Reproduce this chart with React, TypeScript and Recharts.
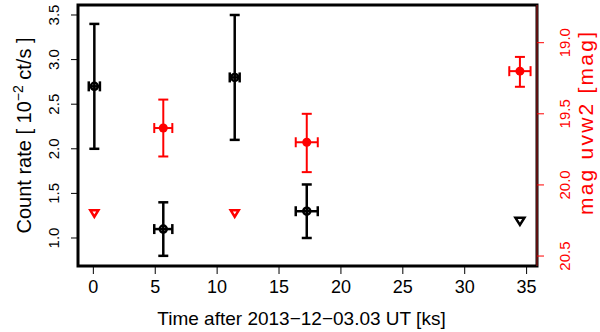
import { ComposedChart, ErrorBar, ReferenceArea, Scatter, XAxis, YAxis } from 'recharts';

const FONT = '"Liberation Sans", Arial, sans-serif';

// X-ray count rate (black), detections
const xrayTime = [0.08, 5.65, 11.42, 17.24];
const xrayTimeErr = [0.45, 0.73, 0.4, 0.89];
const xrayRate = [2.7, 1.1, 2.8, 1.3];
const xrayRateLow = [2.0, 0.8, 2.1, 1.0];
const xrayRateHigh = [3.4, 1.4, 3.5, 1.6];

// X-ray upper limits
const xrayLimTime = [34.46];
const xrayLimRate = [1.19];

// UVOT uvw2 magnitudes (red), detections
const uvTime = [5.65, 17.24, 34.46];
const uvTimeErr = [0.73, 0.89, 0.86];
const uvMag = [19.6, 19.7, 19.2];
const uvMagLow = [19.4, 19.5, 19.1];
const uvMagHigh = [19.8, 19.91, 19.31];

// UVOT upper limits
const uvLimTime = [0.08, 11.42];
const uvLimMag = [20.2, 20.2];

const xTicks = [0, 5, 10, 15, 20, 25, 30, 35];
const rateTicks = [1.0, 1.5, 2.0, 2.5, 3.0, 3.5];
const magTicks = [19.0, 19.5, 20.0, 20.5];

const xDomain: [number, number] = [-1.24, 35.84];
const rateDomain: [number, number] = [0.686, 3.612];
const magDomain: [number, number] = [18.735, 20.57];

const xrayData = xrayTime.map((t, i) => ({
  x: t,
  y: xrayRate[i],
  xe: xrayTimeErr[i],
  ye: [xrayRate[i] - xrayRateLow[i], xrayRateHigh[i] - xrayRate[i]],
}));
const xrayLimData = xrayLimTime.map((t, i) => ({ x: t, y: xrayLimRate[i] }));
const uvData = uvTime.map((t, i) => ({
  x: t,
  y: uvMag[i],
  xe: uvTimeErr[i],
  ye: [uvMag[i] - uvMagLow[i], uvMagHigh[i] - uvMag[i]],
}));
const uvLimData = uvLimTime.map((t, i) => ({ x: t, y: uvLimMag[i] }));

const OpenCircle = (p: any) => (
  <circle cx={p.cx} cy={p.cy} r={3.5} fill="none" stroke="#000" strokeWidth={2.5} />
);
const FilledDot = (p: any) => <circle cx={p.cx} cy={p.cy} r={4.5} fill="#ff0000" />;
const downTri = (color: string, hw: number) => (p: any) => (
  <path
    d={`M${p.cx - hw},${p.cy - hw * 0.75} L${p.cx + hw},${p.cy - hw * 0.75} L${p.cx},${p.cy + hw * 0.85} Z`}
    fill="none"
    stroke={color}
    strokeWidth={2.5}
    strokeLinejoin="miter"
  />
);

const LeftTick = (p: any) => {
  const x = p.x - 12;
  return (
    <text
      x={x}
      y={p.y}
      transform={`rotate(-90, ${x}, ${p.y})`}
      textAnchor="middle"
      fontSize={15}
      fontFamily={FONT}
      fill="#000"
    >
      {Number(p.payload.value).toFixed(1)}
    </text>
  );
};

const RightTick = (p: any) => {
  const x = p.x + 26;
  return (
    <text
      x={x}
      y={p.y}
      transform={`rotate(-90, ${x}, ${p.y})`}
      textAnchor="middle"
      fontSize={15}
      fontFamily={FONT}
      fill="#ff0000"
    >
      {Number(p.payload.value).toFixed(1)}
    </text>
  );
};

const LeftTitle = () => (
  <text
    x={31}
    y={135.5}
    transform="rotate(-90, 31, 135.5)"
    textAnchor="middle"
    fontSize={20}
    fontFamily={FONT}
    fill="#000"
  >
    Count rate [ 10
    <tspan dy={-8} fontSize={14}>−2</tspan>
    <tspan dy={8}> ct/s ]</tspan>
  </text>
);

const RightTitle = () => (
  <text
    x={593}
    y={123.5}
    transform="rotate(-90, 593, 123.5)"
    textAnchor="middle"
    fontSize={21}
    fontFamily={FONT}
    fill="#ff0000"
    textLength={183}
    lengthAdjust="spacing"
  >
    mag uvw2 [mag]
  </text>
);

const BottomTitle = () => (
  <text x={301.5} y={325} textAnchor="middle" fontSize={19} fontFamily={FONT} fill="#000">
    Time after 2013−12−03.03 UT [ks]
  </text>
);

export default function App() {
  return (
    <div style={{ position: 'absolute', left: 0, top: 0, background: '#fff' }}>
      <ComposedChart width={600} height={332} margin={{ top: 5, right: 0, bottom: 0, left: 0 }}>
        <XAxis
          type="number"
          dataKey="x"
          domain={xDomain}
          ticks={xTicks}
          allowDataOverflow
          height={66}
          axisLine={false}
          tickSize={8}
          tickMargin={6.5}
          tickLine={{ stroke: '#000', strokeWidth: 1 }}
          tick={{ fontSize: 18, fontFamily: FONT, fill: '#000' }}
          label={{ content: BottomTitle }}
        />
        <YAxis
          yAxisId="left"
          type="number"
          dataKey="y"
          domain={rateDomain}
          ticks={rateTicks}
          allowDataOverflow
          width={78}
          axisLine={false}
          tickSize={7}
          tickMargin={0}
          tickLine={{ stroke: '#000', strokeWidth: 1 }}
          tick={LeftTick}
          label={{ content: LeftTitle }}
        />
        <YAxis
          yAxisId="right"
          orientation="right"
          type="number"
          dataKey="y"
          domain={magDomain}
          reversed
          ticks={magTicks}
          allowDataOverflow
          width={63}
          axisLine={{ stroke: '#5c1010', strokeWidth: 2 }}
          tickSize={7}
          tickMargin={0}
          tickLine={{ stroke: '#ff0000', strokeWidth: 1 }}
          tick={RightTick}
          label={{ content: RightTitle }}
        />
        <ReferenceArea
          yAxisId="left"
          x1={xDomain[0]}
          x2={xDomain[1]}
          y1={rateDomain[0]}
          y2={rateDomain[1]}
          fill="none"
          stroke="#000"
          strokeWidth={3}
          ifOverflow="visible"
        />
        <Scatter yAxisId="left" data={xrayData} dataKey="y" shape={OpenCircle} isAnimationActive={false}>
          <ErrorBar dataKey="ye" direction="y" width={5} stroke="#000" strokeWidth={2.5} />
          <ErrorBar dataKey="xe" direction="x" width={5} stroke="#000" strokeWidth={2.5} />
        </Scatter>
        <Scatter yAxisId="left" data={xrayLimData} dataKey="y" shape={downTri('#000', 4.5)} isAnimationActive={false} />
        <Scatter yAxisId="right" data={uvData} dataKey="y" shape={FilledDot} isAnimationActive={false}>
          <ErrorBar dataKey="ye" direction="y" width={5} stroke="#ff0000" strokeWidth={2} />
          <ErrorBar dataKey="xe" direction="x" width={5} stroke="#ff0000" strokeWidth={2} />
        </Scatter>
        <Scatter yAxisId="right" data={uvLimData} dataKey="y" shape={downTri('#ff0000', 4)} isAnimationActive={false} />
      </ComposedChart>
    </div>
  );
}
